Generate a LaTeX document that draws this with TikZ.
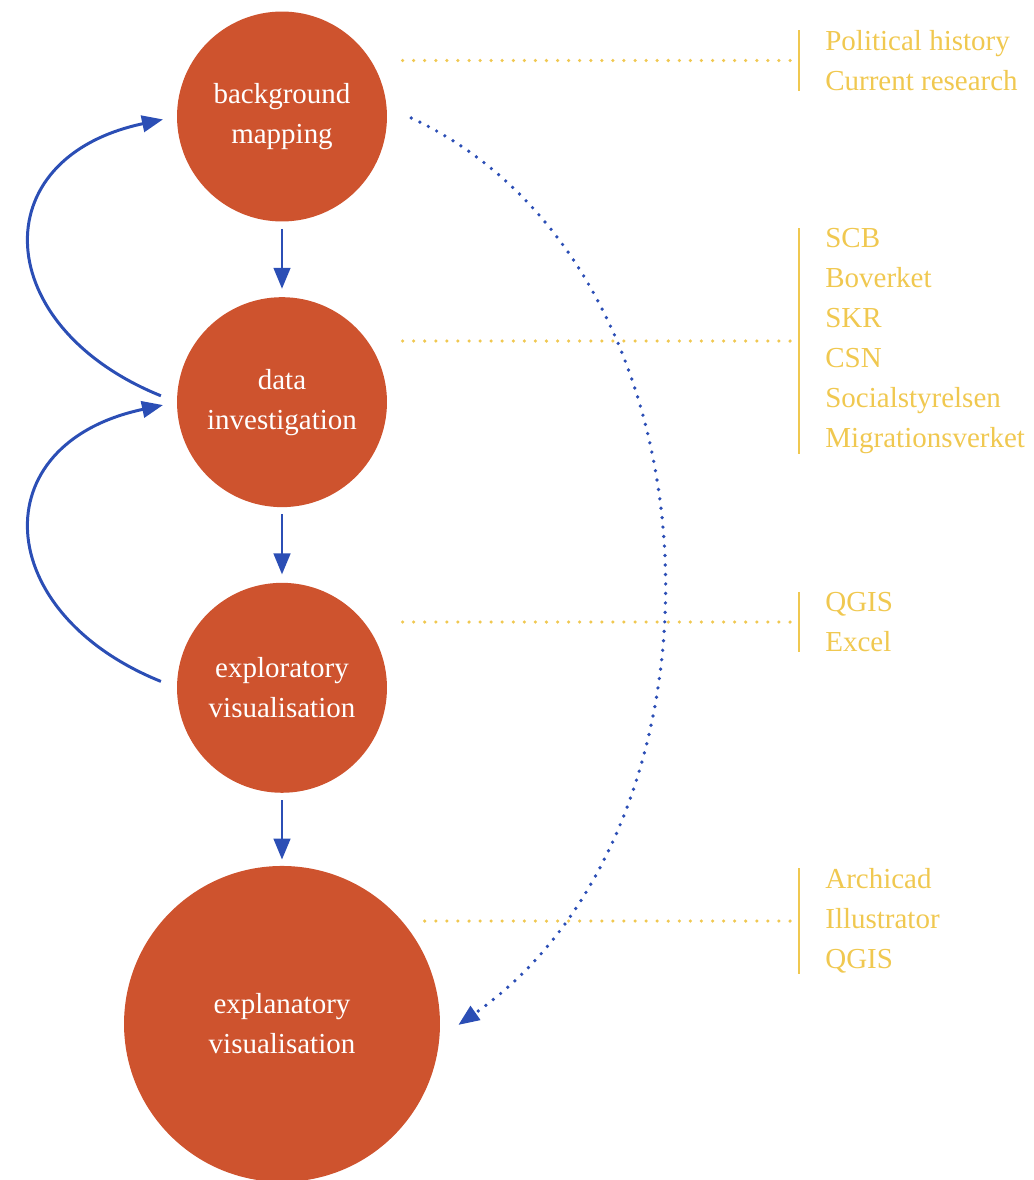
\documentclass[tikz,border=0pt]{standalone}
\usepackage{fontspec}
\setmainfont{Liberation Serif}
\usetikzlibrary{positioning,arrows.meta,calc}
\definecolor{rust}{RGB}{206,83,46}
\definecolor{ink}{RGB}{43,78,181}
\definecolor{ochre}{RGB}{240,200,80}

\begin{document}
\begin{tikzpicture}[x=0.02cm, y=0.02cm,
    stage/.style={circle, fill=rust, text=white, minimum size=4.2cm, inner sep=0pt, align=center,
        font=\fontsize{16.5}{22.7}\selectfont},
    flow/.style={draw=ink, line width=1.7pt, -{Triangle[length=0.42cm, width=0.33cm]}},
    hint/.style={flow, line width=2.1pt, line cap=round, dash pattern=on 0pt off 5.4pt},
    tools/.style={anchor=west, align=left, text=ochre, inner xsep=0.52cm, inner ysep=0pt,
        font=\fontsize{16.5}{22.7}\selectfont},
    tool bar/.style={draw=ochre, line width=1.3pt},
    tool link/.style={draw=ochre, line width=2pt, line cap=round, dash pattern=on 0pt off 6.3pt}
]
    \useasboundingbox (0,0) rectangle (1034,-1180);

    \node[stage] (bg) at (282,-116.5) {background\\mapping};
    \node[stage, below=1.5cm of bg] (data) {data\\investigation};
    \node[stage, below=1.5cm of data] (explore) {exploratory\\visualisation};
    \node[stage, below=1.45cm of explore, minimum size=6.32cm] (explain) {explanatory\\visualisation};

    \node[tools] (bgtools) at (799,-60.5) {Political history\\Current research};
    \node[tools] (datatools) at (799,-341) {SCB\\Boverket\\SKR\\CSN\\Socialstyrelsen\\Migrationsverket};
    \node[tools] (exploretools) at (799,-622) {QGIS\\Excel};
    \node[tools] (explaintools) at (799,-921) {Archicad\\Illustrator\\QGIS};

    \foreach \t in {bgtools,datatools,exploretools,explaintools}
        \draw[tool bar] (\t.north west) -- (\t.south west);

    \draw[tool link] ([xshift=-0.18cm]bgtools.west) -- ($(bgtools.west -| bg.east)+(8,0)$);
    \draw[tool link] ([xshift=-0.18cm]datatools.west) -- ($(datatools.west -| data.east)+(8,0)$);
    \draw[tool link] ([xshift=-0.18cm]exploretools.west) -- ($(exploretools.west -| explore.east)+(8,0)$);
    \draw[tool link] ([xshift=-0.18cm]explaintools.west) -- ($(explaintools.west -| explain.east)+(-16,0)$);

    \draw[flow, shorten <=0.14cm, shorten >=0.16cm] (bg) -- (data);
    \draw[flow, shorten <=0.14cm, shorten >=0.16cm] (data) -- (explore);
    \draw[flow, shorten <=0.14cm, shorten >=0.12cm] (explore) -- (explain);

    \draw[flow, shorten <=0.34cm, shorten >=0.28cm] (data.west) .. controls +(158:200) and +(192:200) .. (bg.west);
    \draw[flow, shorten <=0.34cm, shorten >=0.28cm] (explore.west) .. controls +(158:200) and +(192:200) .. (data.west);

    \draw[hint] ($(bg.east)+(24,-1.5)$) .. controls +(-25:352) and +(35:352) .. ($(explain.east)+(18,-1)$);
\end{tikzpicture}
\end{document}
